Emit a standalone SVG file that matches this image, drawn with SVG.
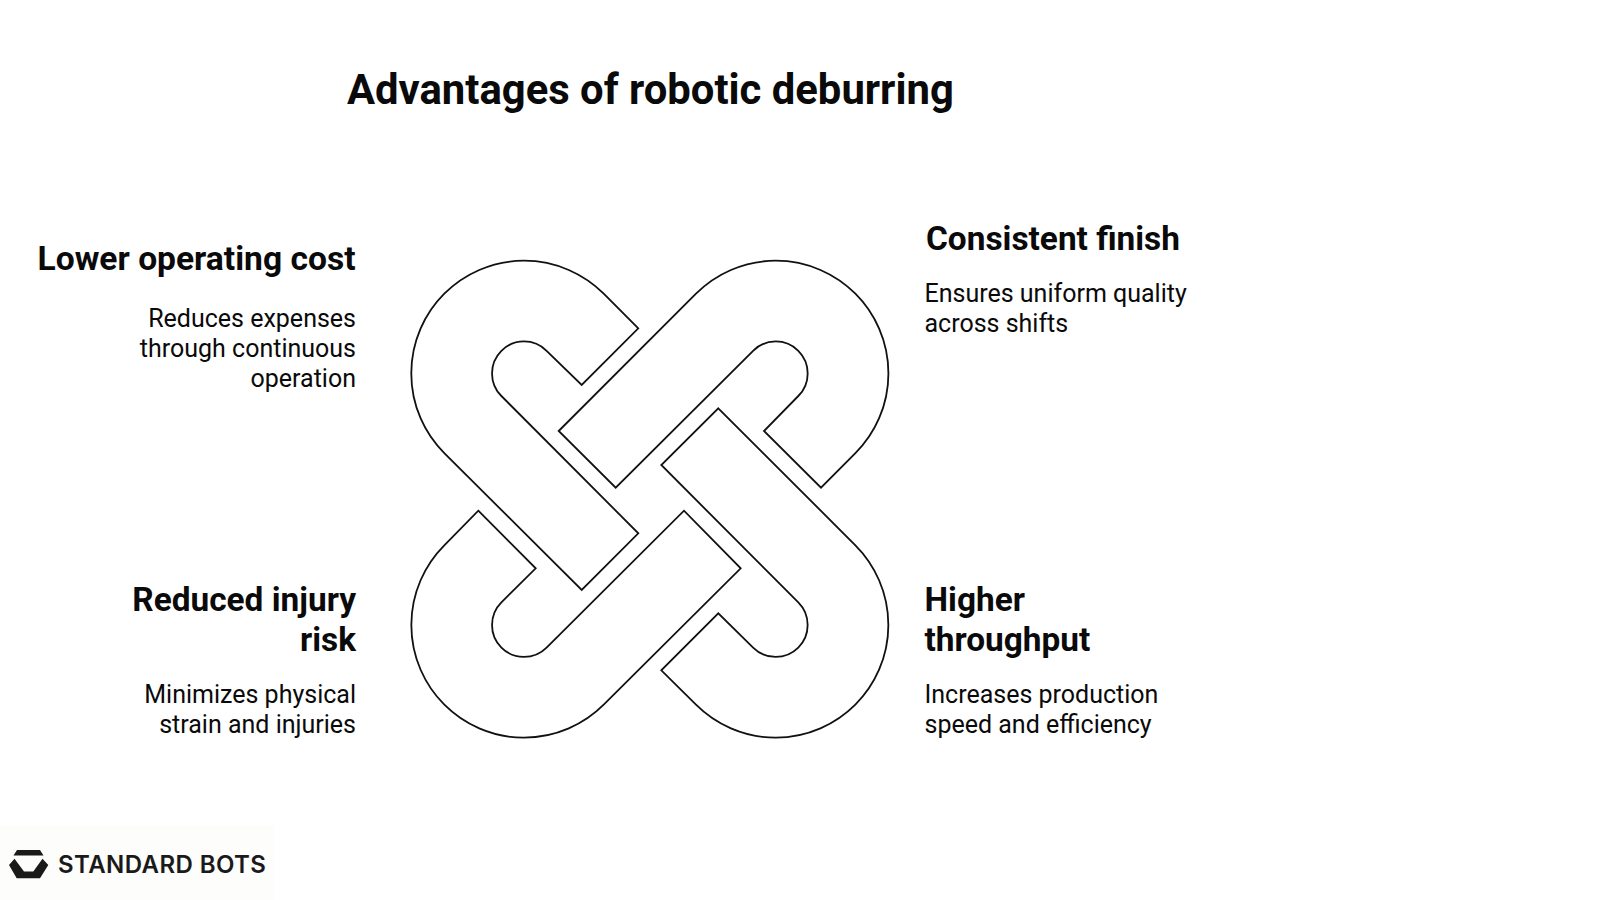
<svg xmlns="http://www.w3.org/2000/svg" width="1600" height="900" viewBox="0 0 1600 900">
<style>
text{font-family:Roboto,"Liberation Sans",sans-serif;fill:#0a0a0a}
.title{font-size:41.8px;font-weight:700}
.head{font-size:33.4px;font-weight:700}
.body{font-size:25px;font-weight:400}
.end{text-anchor:end}
.piece{fill:#fff;stroke:#111;stroke-width:1.8;stroke-linejoin:miter}
</style>
<rect width="1600" height="900" fill="#fff"/>
<text class="title" x="347" y="103.500">Advantages of robotic deburring</text>
<g id="shapes">
<path id="piece-tl" class="piece" d="M638.3 328.3L603.700 293.700A100 100 0 1 0 444.300 453.100L581.700 590L638.300 533.300L501.400 396A10 10 0 1 1 546.600 350.800L581.700 385Z"/>
<path id="piece-tr" class="piece" d="M558.7 431L696 293.700A100 100 0 1 1 855.400 453.100L821 487.700L764 431L798.300 396A10 10 0 1 0 753.100 350.800L615.700 487.700Z"/>
<path id="piece-br" class="piece" d="M718.3 408.3L855.400 545.300A100 100 0 0 1 696 704.700L661.300 670.300L718.300 613.300L753.100 647.600A10 10 0 0 0 798.300 602.400L661.300 465Z"/>
<path id="piece-bl" class="piece" d="M478.3 510.7L535.700 568.300L501.400 602.400A10 10 0 0 0 546.600 647.600L684 510.700L740.700 568.300L603.700 704.700A100 100 0 0 1 444.300 545.300Z"/>
</g>
<g id="node-lower-cost">
<text class="head end" x="355.500" y="270" style="font-size:33.6px">Lower operating cost</text>
<text class="body end" x="356" y="327">Reduces expenses</text>
<text class="body end" x="356" y="357">through continuous</text>
<text class="body end" x="356" y="387">operation</text>
</g>
<g id="node-consistent">
<text class="head" x="926" y="250">Consistent finish</text>
<text class="body" x="924.500" y="302">Ensures uniform quality</text>
<text class="body" x="924.500" y="332">across shifts</text>
</g>
<g id="node-injury">
<text class="head end" x="356" y="611">Reduced injury</text>
<text class="head end" x="356" y="651">risk</text>
<text class="body end" x="356" y="703">Minimizes physical</text>
<text class="body end" x="356" y="733">strain and injuries</text>
</g>
<g id="node-throughput">
<text class="head" x="924.500" y="611">Higher</text>
<text class="head" x="924.500" y="651">throughput</text>
<text class="body" x="924.500" y="703">Increases production</text>
<text class="body" x="924.500" y="733">speed and efficiency</text>
</g>
<g id="logo">
<rect x="0" y="825" width="274" height="75" fill="#fdfdfb"/>
<path d="M17 850H40L43.500 855.500H13.500Z" fill="#1a1a1a"/>
<path d="M14.500 858.800L9 865L16.700 878.300H40L48.300 865L42.500 858.800L33.300 871.500H24Z" fill="#1a1a1a"/>
<text x="58" y="873" font-size="24" font-weight="600" letter-spacing="0.42" style="font-family:Inter,sans-serif;fill:#1a1a1a">STANDARD BOTS</text>
</g>
</svg>
